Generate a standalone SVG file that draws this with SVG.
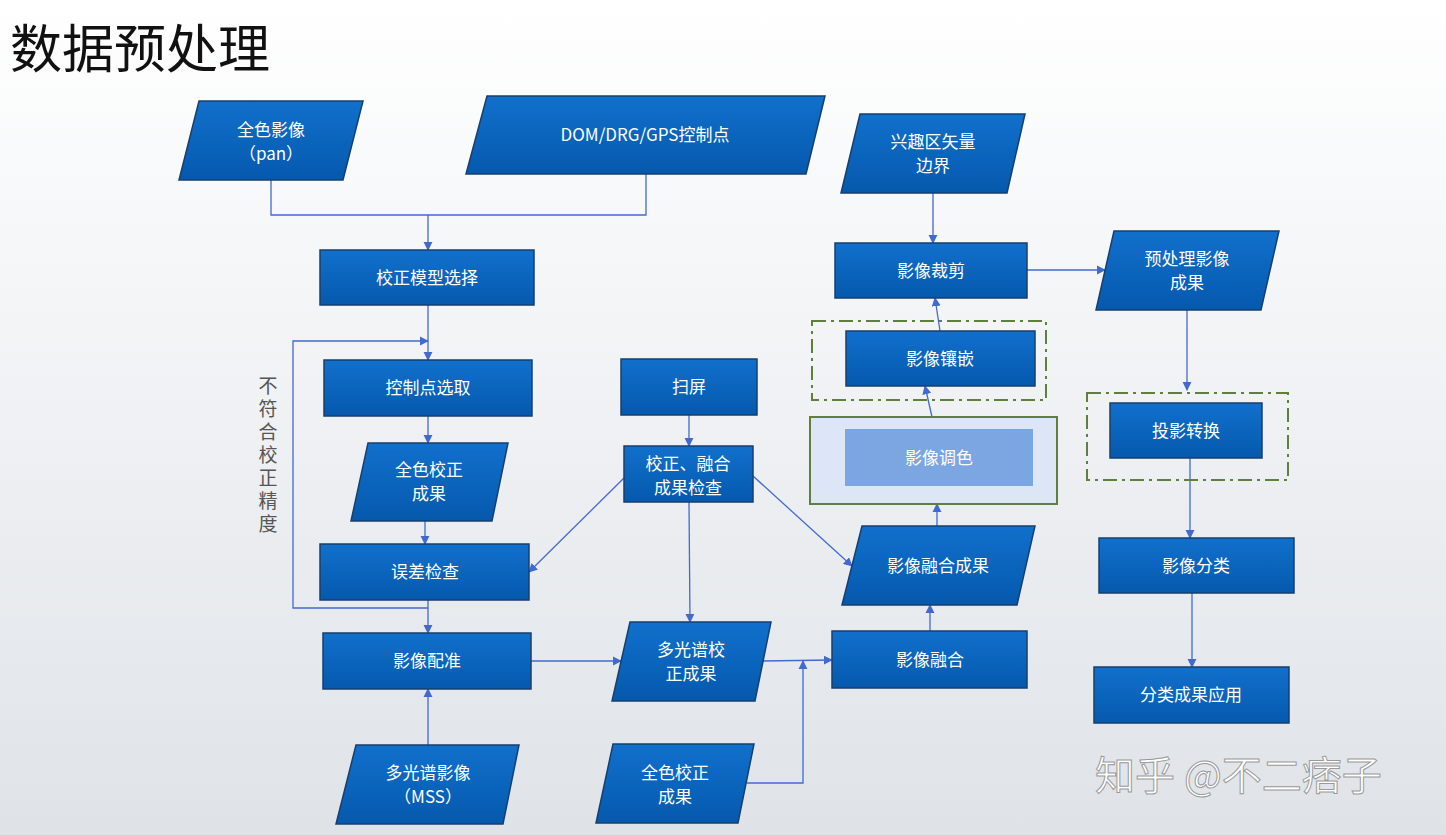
<svg xmlns="http://www.w3.org/2000/svg" width="1446" height="835" viewBox="0 0 1446 835">
<defs>
<linearGradient id="bg" x1="0" y1="0" x2="0" y2="1"><stop offset="0" stop-color="#ffffff"/><stop offset="1" stop-color="#dfe3e8"/></linearGradient>
<linearGradient id="bf" x1="0" y1="0" x2="0" y2="1"><stop offset="0" stop-color="#1170cc"/><stop offset="1" stop-color="#0559ad"/></linearGradient>
<marker id="ah" viewBox="0 0 10 10" refX="9" refY="5" markerWidth="7" markerHeight="7" orient="auto"><path d="M0,0L10,5L0,10z" fill="#4169d0"/></marker>
</defs>
<style>
.n{fill:url(#bf);stroke:#173f6e;stroke-width:1.5}
.t{font-family:"Noto Sans CJK SC","Noto Sans",sans-serif;font-size:17px;fill:#fff;text-anchor:middle}
.c{fill:none;stroke:#4169d0;stroke-width:1.3}
.a{marker-end:url(#ah)}
.d{fill:none;stroke:#5f7f3c;stroke-width:2;stroke-dasharray:14 5 3 5}
</style>
<rect width="1446" height="835" fill="url(#bg)"/>
<text x="10" y="68" font-family="Noto Sans CJK SC,sans-serif" font-size="52" fill="#111">数据预处理</text>
<text x="268" y="376" writing-mode="tb" font-family="Noto Sans CJK SC,sans-serif" font-size="19" letter-spacing="4" fill="#555">不符合校正精度</text>
<g id="connectors">
<path class="c" d="M271,180V215H646V174"/>
<path class="c a" d="M428,215V250"/>
<path class="c a" d="M428,305V360"/>
<path class="c a" d="M428,608H293V341H428"/>
<path class="c a" d="M428,416V443"/>
<path class="c a" d="M425,521V544"/>
<path class="c a" d="M428,600V633"/>
<path class="c a" d="M428,745V689"/>
<path class="c a" d="M531,661H621"/>
<path class="c a" d="M689,415V446"/>
<path class="c a" d="M624,478L529,572"/>
<path class="c a" d="M689,502L690,622"/>
<path class="c a" d="M753,476L852,566"/>
<path class="c a" d="M762,661L832,660"/>
<path class="c a" d="M747,783H803V661"/>
<path class="c a" d="M930,631V605"/>
<path class="c a" d="M937,526V504"/>
<path class="c a" d="M932,417L925,386"/>
<path class="c a" d="M940,331L935,298"/>
<path class="c a" d="M933,193V243"/>
<path class="c a" d="M1027,270H1105"/>
<path class="c a" d="M1187,310V390"/>
<path class="c a" d="M1190,458V538"/>
<path class="c a" d="M1192,593V667"/>
</g>
<g id="pan"><polygon class="n" points="199,101 363,101 343,180 179,180"/><text class="t" x="271" y="136">全色影像</text><text class="t" x="271" y="160">（pan）</text></g>
<g id="dom"><polygon class="n" points="487,96 825,96 806,174 466,174"/><text class="t" x="645" y="141">DOM/DRG/GPS控制点</text></g>
<g id="jzmx"><rect class="n" x="320" y="250" width="214" height="55"/><text class="t" x="427" y="284">校正模型选择</text></g>
<g id="kzd"><rect class="n" x="324" y="360" width="208" height="56"/><text class="t" x="428" y="394">控制点选取</text></g>
<g id="qsjz"><polygon class="n" points="368,443 508,443 492,521 351,521"/><text class="t" x="429" y="476">全色校正</text><text class="t" x="429" y="500">成果</text></g>
<g id="wcjc"><rect class="n" x="320" y="544" width="209" height="56"/><text class="t" x="425" y="578">误差检查</text></g>
<g id="yxpz"><rect class="n" x="323" y="633" width="208" height="56"/><text class="t" x="427" y="667">影像配准</text></g>
<g id="mss"><polygon class="n" points="356,745 519,745 503,824 336,824"/><text class="t" x="428" y="779">多光谱影像</text><text class="t" x="428" y="803">（MSS）</text></g>
<g id="sp"><rect class="n" x="621" y="359" width="136" height="56"/><text class="t" x="689" y="393">扫屏</text></g>
<g id="jc"><rect class="n" x="624" y="446" width="129" height="56"/><text class="t" x="688" y="470">校正、融合</text><text class="t" x="688" y="494">成果检查</text></g>
<g id="dgpjz"><polygon class="n" points="630,622 771,622 755,701 612,701"/><text class="t" x="691" y="656">多光谱校</text><text class="t" x="691" y="680">正成果</text></g>
<g id="qsjz2"><polygon class="n" points="613,744 754,744 738,823 596,823"/><text class="t" x="675" y="779">全色校正</text><text class="t" x="675" y="803">成果</text></g>
<g id="xqq"><polygon class="n" points="860,114 1025,114 1007,193 841,193"/><text class="t" x="933" y="148">兴趣区矢量</text><text class="t" x="933" y="172">边界</text></g>
<g id="cj"><rect class="n" x="835" y="243" width="192" height="55"/><text class="t" x="931" y="277">影像裁剪</text></g>
<g id="xq"><rect class="d" x="812" y="321" width="234" height="79"/><rect class="n" x="846" y="331" width="189" height="55"/><text class="t" x="940" y="365">影像镶嵌</text></g>
<g id="ts"><rect x="810" y="417" width="247" height="87" fill="#dce6f6" stroke="#5f7f3c" stroke-width="2"/><rect x="845" y="429" width="188" height="57" fill="#7ba6e2"/><text class="t" x="939" y="464" fill="#e6eefa">影像调色</text></g>
<g id="rhcg"><polygon class="n" points="862,526 1035,526 1017,605 842,605"/><text class="t" x="938" y="572">影像融合成果</text></g>
<g id="rh"><rect class="n" x="832" y="631" width="195" height="57"/><text class="t" x="930" y="666">影像融合</text></g>
<g id="ycl"><polygon class="n" points="1114,231 1279,231 1261,310 1096,310"/><text class="t" x="1187" y="265">预处理影像</text><text class="t" x="1187" y="289">成果</text></g>
<g id="ty"><rect class="d" x="1087" y="393" width="201" height="87"/><rect class="n" x="1110" y="403" width="152" height="55"/><text class="t" x="1186" y="437">投影转换</text></g>
<g id="fl"><rect class="n" x="1099" y="538" width="195" height="55"/><text class="t" x="1196" y="572">影像分类</text></g>
<g id="yy"><rect class="n" x="1094" y="667" width="195" height="56"/><text class="t" x="1191" y="701">分类成果应用</text></g>
<text x="1095" y="790" font-family="Noto Sans CJK SC,sans-serif" font-size="40" fill="#fff" stroke="#999" stroke-width="1">知乎 @不二痞子</text>
</svg>
